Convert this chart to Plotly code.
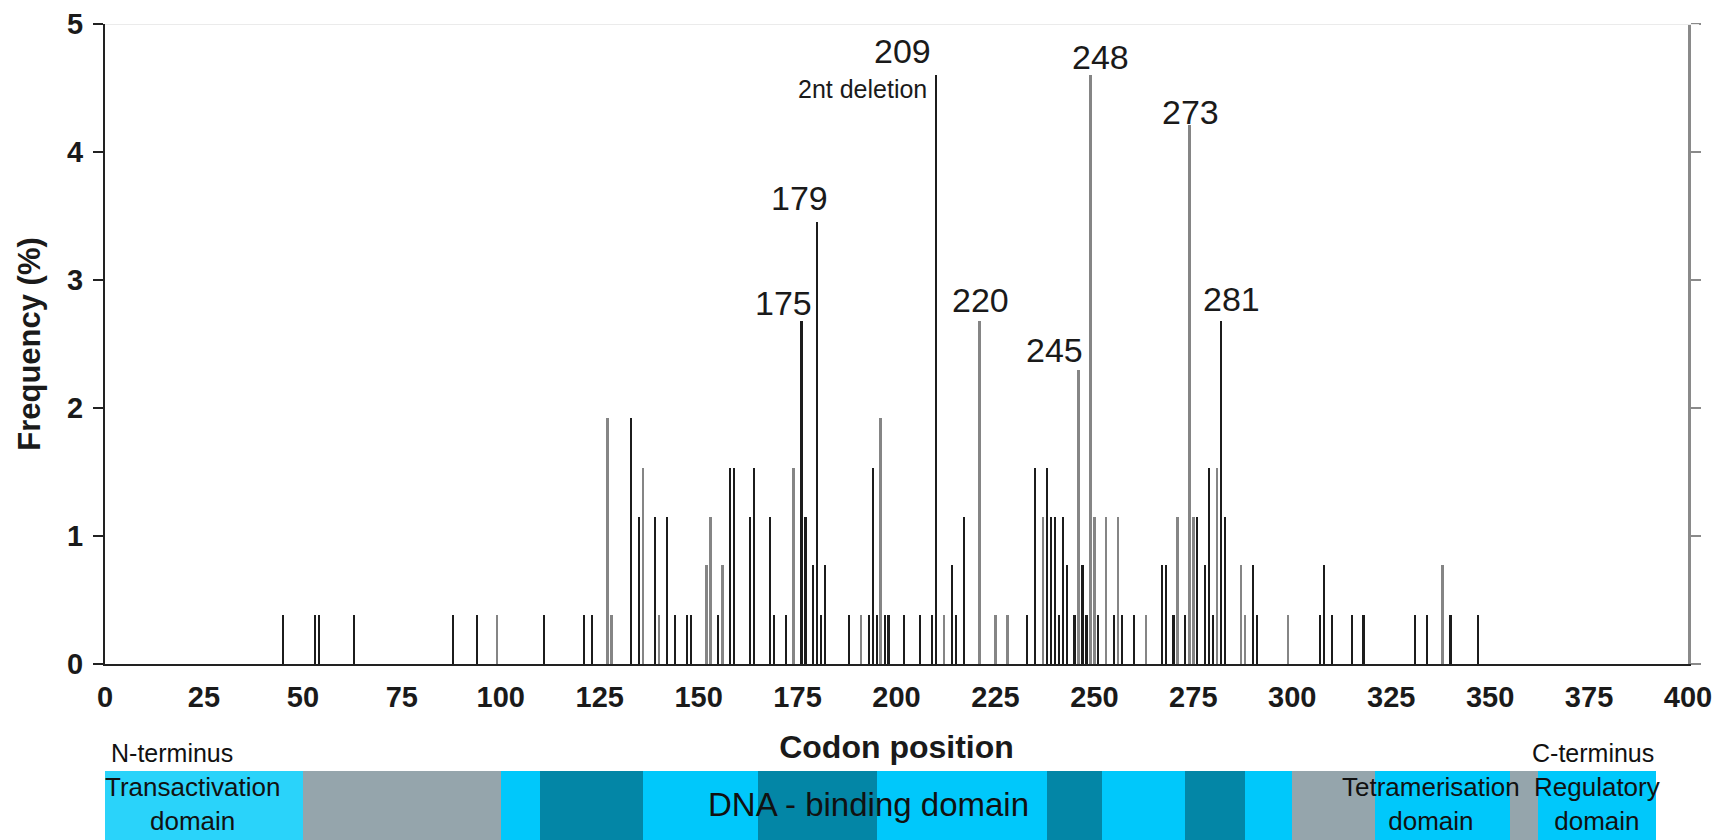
import plotly.graph_objects as go

# Mutation frequency (%) per codon, two groups of mutations
black_codons = [44, 52, 53, 62, 87, 93, 110, 120, 122, 132, 134, 138, 141, 143, 146, 147,
                154, 157, 158, 162, 163, 167, 168, 171, 175, 176, 178, 179, 180, 181, 187,
                192, 193, 194, 196, 197, 201, 205, 208, 209, 213, 214, 216, 232, 234, 237,
                238, 239, 240, 241, 242, 244, 246, 247, 250, 254, 256, 259, 266, 267, 269,
                272, 275, 277, 278, 279, 281, 282, 289, 290, 306, 307, 309, 314, 317, 330,
                333, 339, 346]
black_freq = [0.38, 0.38, 0.38, 0.38, 0.38, 0.38, 0.38, 0.38, 0.38, 1.92, 1.15, 1.15, 1.15, 0.38, 0.38, 0.38,
              0.38, 1.53, 1.53, 1.15, 1.53, 1.15, 0.38, 0.38, 2.68, 1.15, 0.77, 3.45, 0.38, 0.77, 0.38,
              0.38, 1.53, 0.38, 0.38, 0.38, 0.38, 0.38, 0.38, 4.60, 0.77, 0.38, 1.15, 0.38, 1.53, 1.53,
              1.15, 1.15, 0.38, 1.15, 0.77, 0.38, 0.77, 0.38, 0.38, 0.38, 0.38, 0.38, 0.77, 0.77, 0.38,
              0.38, 1.15, 0.77, 1.53, 0.38, 2.68, 1.15, 0.77, 0.38, 0.38, 0.77, 0.38, 0.38, 0.38, 0.38,
              0.38, 0.38, 0.38]

gray_codons = [98, 126, 127, 135, 139, 151, 152, 155, 173, 190, 195, 211, 220, 224, 227, 236,
               245, 248, 249, 252, 255, 262, 270, 273, 274, 280, 286, 287, 298, 337]
gray_freq = [0.38, 1.92, 0.38, 1.53, 0.38, 0.77, 1.15, 0.77, 1.53, 0.38, 1.92, 0.38, 2.68, 0.38, 0.38, 1.15,
             2.30, 4.60, 1.15, 1.15, 1.15, 0.38, 1.15, 4.21, 1.15, 1.53, 0.77, 0.38, 0.38, 0.77]

# Hotspot labels: codon, frequency, pixel shifts of the label
hot_codons = [175, 179, 209, 220, 245, 248, 273, 281]
hot_freq = [2.68, 3.45, 4.60, 2.68, 2.30, 4.60, 4.21, 2.68]
hot_dx = [-14, -14, -30, 5, -20, 14, 5, 14]
hot_dy = [18, 24, 24, 21, 20, 18, 13, 22]

x_ticks = list(range(0, 401, 25))
y_ticks = [0, 1, 2, 3, 4, 5]

# Protein domain map (codon start/end)
dom_start = [0, 50, 100, 110, 136, 165, 195, 238, 252, 273, 288, 300, 321, 355, 362]
dom_end = [50, 100, 110, 136, 165, 195, 238, 252, 273, 288, 300, 321, 355, 362, 392]
dom_color = ["#2ad3fa", "#95a5ac", "#00c8fb", "#0386a6", "#00c8fb", "#0386a6", "#00c8fb",
             "#0386a6", "#00c8fb", "#0386a6", "#00c8fb", "#95a5ac", "#00c8fb", "#95a5ac", "#00c8fb"]

FONT = "Liberation Sans, Arial, sans-serif"

fig = go.Figure()

fig.add_trace(go.Bar(
    x=gray_codons, y=gray_freq, width=0.6, offset=0.7,
    marker=dict(color="#858585", line=dict(width=0)),
    showlegend=False, hoverinfo="x+y"))
fig.add_trace(go.Bar(
    x=black_codons, y=black_freq, width=0.55, offset=0.72,
    marker=dict(color="#1c1c1c", line=dict(width=0)),
    showlegend=False, hoverinfo="x+y"))

# Empty trace so the grey right-hand axis is drawn
fig.add_trace(go.Scatter(x=[None], y=[None], yaxis="y3", showlegend=False, hoverinfo="skip"))

# Domain bar
for s, e, c in zip(dom_start, dom_end, dom_color):
    fig.add_trace(go.Bar(
        y=[0], x=[e - s], base=[s], orientation="h", width=1,
        marker=dict(color=c, line=dict(width=0)), yaxis="y2",
        showlegend=False, hoverinfo="skip"))

tick_font = dict(family=FONT, size=29, color="#1a1a1a", weight="bold")
title_font = dict(family=FONT, size=31, color="#1a1a1a", weight="bold")

fig.update_layout(
    width=1727, height=840,
    margin=dict(l=105, r=39, t=24, b=0),
    paper_bgcolor="white", plot_bgcolor="white",
    barmode="overlay", bargap=0,
    font=dict(family=FONT, color="#1a1a1a"),
    xaxis=dict(range=[0, 400], tickvals=x_ticks, ticks="", showgrid=False, zeroline=False,
               showline=True, linecolor="#222222", linewidth=2, anchor="y", automargin=False,
               tickfont=tick_font, ticklabelstandoff=6,
               title=dict(text="Codon position", font=dict(title_font, size=32), standoff=24)),
    yaxis=dict(domain=[0.2157, 1], range=[0, 5], tickvals=y_ticks, ticks="outside", ticklen=10,
               tickwidth=2, tickcolor="#222222", showgrid=False, zeroline=False,
               showline=True, linecolor="#222222", linewidth=2, automargin=False,
               tickfont=tick_font, ticklabelstandoff=4,
               title=dict(text="Frequency (%)", font=title_font, standoff=17)),
    yaxis2=dict(domain=[0, 0.0846], range=[-0.5, 0.5], visible=False, anchor="x",
                automargin=False),
    yaxis3=dict(overlaying="y", side="right", anchor="x", range=[0, 5], tickvals=y_ticks,
                ticks="outside", ticklen=10, tickwidth=2, tickcolor="#8a8a8a",
                showline=True, linecolor="#8a8a8a", linewidth=3, showticklabels=False,
                showgrid=False, zeroline=False, automargin=False),
    shapes=[dict(type="line", xref="paper", yref="y", x0=0, x1=1.007, y0=5, y1=5,
                 line=dict(color="#ebebeb", width=2))],
)

ann = []
for c, v, dx, dy in zip(hot_codons, hot_freq, hot_dx, hot_dy):
    ann.append(dict(x=c, y=v, xref="x", yref="y", text=str(c), showarrow=False,
                    xanchor="center", yanchor="middle", xshift=dx, yshift=dy,
                    font=dict(family=FONT, size=34, color="#1a1a1a")))
ann.append(dict(x=209, y=4.60, xref="x", yref="y", text="2nt deletion", showarrow=False,
                xanchor="right", yanchor="middle", xshift=-3, yshift=-14,
                font=dict(family=FONT, size=25, color="#1a1a1a")))

# Domain labels
dom_text = ["Transactivation<br>domain", "DNA - binding domain", "Tetramerisation<br>domain",
            "Regulatory<br>domain"]
dom_text_x = [22, 193, 335, 377]
dom_text_size = [26, 33, 26, 26]
for t, x, s in zip(dom_text, dom_text_x, dom_text_size):
    ann.append(dict(x=x, y=0.02, xref="x", yref="y2", text=t, showarrow=False,
                    xanchor="center", yanchor="middle",
                    font=dict(family=FONT, size=s, color="#111111")))
ann.append(dict(x=17, y=0.5, xref="x", yref="y2", text="N-terminus", showarrow=False,
                xanchor="center", yanchor="bottom", yshift=2,
                font=dict(family=FONT, size=25, color="#111111")))
ann.append(dict(x=376, y=0.5, xref="x", yref="y2", text="C-terminus", showarrow=False,
                xanchor="center", yanchor="bottom", yshift=2,
                font=dict(family=FONT, size=25, color="#111111")))
fig.update_layout(annotations=ann)

fig.write_html("out.html")
